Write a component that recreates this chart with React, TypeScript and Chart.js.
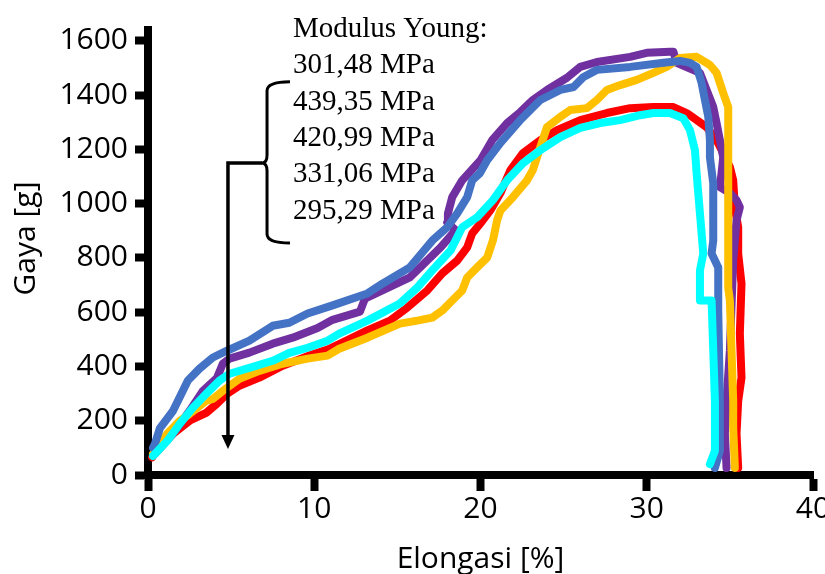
import React, { useEffect, useRef } from 'react';
import { Chart, registerables } from 'chart.js';

Chart.register(...registerables);

// ---------- Axis ticks and texts ----------
const X_TICKS = [0, 10, 20, 30, 40];
const Y_TICKS = [0, 200, 400, 600, 800, 1000, 1200, 1400, 1600];
const X_MIN = 0;
const X_MAX = 40;
const Y_MIN = 0;
const Y_MAX = 1640;
const X_TITLE = 'Elongasi [%]';
const Y_TITLE = 'Gaya [g]';
const MODULUS_LINES = [
  'Modulus Young:',
  '301,48 MPa',
  '439,35 MPa',
  '420,99 MPa',
  '331,06 MPa',
  '295,29 MPa',
];

// ---------- Series (Elongasi %, Gaya g) ----------
const redX = [0.25, 0.4, 1.5, 2.5, 3.5, 4.15, 4.75, 5.5, 6.7, 8.1, 9.6, 10.8, 11.5, 13.2, 14.55, 15.6, 16.8, 17.7, 18.6, 19.2, 19.5, 20.0, 20.6, 21.2, 21.8, 22.55, 23.6, 24.6, 26.0, 27.6, 29.0, 30.4, 31.6, 32.4, 33.0, 33.6, 34.2, 34.6, 35.0, 35.2, 35.3, 35.5, 35.5, 35.7, 35.6, 35.7, 35.5, 35.4, 35.5];
const redY = [65, 79, 152, 200, 229, 263, 299, 329, 359, 403, 438, 462, 482, 533, 569, 617, 680, 743, 790, 839, 890, 928, 976, 1039, 1124, 1186, 1234, 1271, 1308, 1334, 1352, 1356, 1356, 1334, 1308, 1282, 1234, 1186, 1135, 1086, 986, 913, 816, 705, 521, 359, 273, 152, 26];

const yellowX = [0.3, 1.15, 1.9, 2.5, 3.5, 3.9, 4.5, 5.5, 6.7, 8.1, 9.6, 10.8, 11.5, 13.2, 15.15, 16.2, 17.1, 17.7, 18.3, 18.9, 19.2, 19.8, 20.4, 20.75, 21.0, 21.2, 21.95, 22.8, 23.15, 23.6, 24.0, 24.8, 25.4, 26.4, 27.0, 27.6, 28.4, 29.4, 30.4, 31.2, 32.0, 33.0, 33.8, 34.2, 34.6, 34.9, 34.9, 34.9, 34.9, 35.0, 35.1, 35.2, 35.2, 35.3];
const yellowY = [78, 152, 199, 225, 273, 280, 310, 355, 384, 410, 429, 440, 465, 506, 558, 569, 580, 606, 643, 680, 728, 765, 801, 865, 939, 975, 1024, 1086, 1124, 1209, 1282, 1320, 1345, 1352, 1382, 1419, 1437, 1456, 1482, 1504, 1537, 1541, 1511, 1482, 1408, 1356, 1135, 890, 691, 643, 459, 274, 174, 26];

const cyanX = [0.3, 1.15, 1.9, 2.7, 3.5, 4.3, 4.9, 6.1, 7.5, 8.5, 9.6, 10.8, 11.5, 13.2, 15.15, 16.2, 17.1, 18.2, 18.9, 19.8, 20.75, 21.6, 22.55, 23.6, 24.8, 26.0, 27.2, 28.4, 29.6, 30.4, 31.4, 32.2, 32.6, 32.9, 33.0, 33.2, 33.4, 33.2, 33.2, 33.9, 34.0, 34.1, 34.1, 33.8];
const cyanY = [70, 125, 188, 248, 299, 348, 373, 395, 421, 450, 469, 495, 521, 569, 632, 691, 754, 828, 913, 950, 1013, 1086, 1149, 1197, 1245, 1279, 1297, 1308, 1326, 1334, 1334, 1315, 1271, 1197, 1112, 964, 816, 754, 643, 643, 459, 274, 89, 40];

const blueX = [0.3, 0.42, 0.72, 1.5, 2.4, 3.1, 3.9, 4.75, 6.1, 7.5, 8.5, 9.6, 11.1, 13.2, 14.1, 15.75, 16.5, 17.1, 18.0, 18.6, 19.2, 19.5, 19.96, 20.4, 21.2, 22.4, 23.6, 24.8, 25.6, 26.2, 27.0, 29.0, 31.0, 32.0, 32.6, 33.0, 33.3, 33.5, 33.7, 33.8, 33.8, 34.0, 34.0, 34.0, 33.9, 34.3, 34.3, 34.4, 34.4, 34.1];
const blueY = [100, 115, 173, 236, 348, 392, 433, 458, 495, 550, 561, 595, 625, 669, 705, 765, 820, 864, 913, 964, 1024, 1086, 1112, 1160, 1224, 1309, 1382, 1419, 1430, 1467, 1493, 1504, 1519, 1526, 1519, 1504, 1445, 1382, 1320, 1234, 1171, 1075, 964, 864, 816, 765, 606, 273, 89, 26];

const purpleX = [0.42, 1.5, 2.5, 3.3, 4.15, 4.5, 4.9, 6.1, 7.5, 8.7, 10.2, 11.1, 12.75, 13.05, 14.1, 15.75, 16.8, 17.6, 18.5, 18.0, 18.04, 18.3, 18.9, 20.0, 20.7, 21.6, 22.4, 23.15, 24.0, 25.2, 26.0, 27.0, 29.0, 30.0, 31.4, 31.6, 31.8, 33.2, 33.6, 34.0, 34.2, 34.4, 34.6, 34.5, 34.4, 35.0, 35.4, 35.6, 35.4, 35.3, 35.2, 35.0, 34.8, 34.7, 34.8];
const purpleY = [78, 152, 236, 310, 358, 410, 429, 451, 484, 506, 542, 572, 602, 650, 680, 728, 791, 839, 902, 931, 964, 1024, 1086, 1160, 1234, 1297, 1338, 1382, 1419, 1464, 1504, 1522, 1541, 1556, 1560, 1560, 1519, 1482, 1419, 1356, 1297, 1234, 1171, 1112, 1061, 1039, 1013, 987, 939, 864, 790, 459, 274, 152, 26];

// Drawing order: first entry is drawn on top
const SERIES_X = [cyanX, blueX, yellowX, purpleX, redX];
const SERIES_Y = [cyanY, blueY, yellowY, purpleY, redY];
const SERIES_COLORS = ['#00FFFF', '#4472C4', '#FFC000', '#7030A0', '#FF0000'];

// ---------- Annotation anchors (data units) ----------
const NOTE_TEXT_X = 8.72;
const NOTE_TEXT_Y = 1615;
const BRACE_X = 7.16;
const BRACE_TIP_X = 8.54;
const BRACE_TOP_Y = 1449;
const BRACE_MID_Y = 1150;
const BRACE_BOTTOM_Y = 855;
const ARROW_X = 4.81;
const ARROW_TIP_Y = 96;

const SANS = '"Open Sans", "Noto Sans", sans-serif';
const SERIF = '"Liberation Serif", "Times New Roman", serif';

const notesPlugin = {
  id: 'notes',
  afterDraw(chart: any) {
    const { ctx, chartArea } = chart;
    const xs = chart.scales.x;
    const ys = chart.scales.y;
    ctx.save();
    ctx.fillStyle = '#000';
    ctx.strokeStyle = '#000';

    // Modulus text
    ctx.font = `29px ${SERIF}`;
    ctx.textAlign = 'left';
    ctx.textBaseline = 'alphabetic';
    const tx = xs.getPixelForValue(NOTE_TEXT_X);
    const ty = ys.getPixelForValue(NOTE_TEXT_Y);
    MODULUS_LINES.forEach((t, i) => ctx.fillText(t, tx, ty + i * 36.4));

    // Curly brace
    const bx = xs.getPixelForValue(BRACE_X);
    const btx = xs.getPixelForValue(BRACE_TIP_X);
    const bt = ys.getPixelForValue(BRACE_TOP_Y);
    const bm = ys.getPixelForValue(BRACE_MID_Y);
    const bb = ys.getPixelForValue(BRACE_BOTTOM_Y);
    ctx.lineWidth = 3;
    ctx.lineJoin = 'round';
    ctx.beginPath();
    ctx.moveTo(btx, bt);
    ctx.quadraticCurveTo(bx, bt, bx, bt + 9);
    ctx.lineTo(bx, bm - 8);
    ctx.quadraticCurveTo(bx, bm, bx - 5, bm);
    ctx.quadraticCurveTo(bx, bm, bx, bm + 8);
    ctx.lineTo(bx, bb - 9);
    ctx.quadraticCurveTo(bx, bb, btx, bb);
    ctx.stroke();

    // Arrow
    const ax = xs.getPixelForValue(ARROW_X);
    const atip = ys.getPixelForValue(ARROW_TIP_Y);
    ctx.lineWidth = 3.5;
    ctx.lineJoin = 'miter';
    ctx.beginPath();
    ctx.moveTo(bx - 5, bm);
    ctx.lineTo(ax, bm);
    ctx.lineTo(ax, atip - 12);
    ctx.stroke();
    ctx.beginPath();
    ctx.moveTo(ax - 6.5, atip - 14);
    ctx.lineTo(ax + 6.5, atip - 14);
    ctx.lineTo(ax, atip);
    ctx.closePath();
    ctx.fill();

    // Axis titles
    ctx.font = `30px ${SANS}`;
    ctx.textAlign = 'center';
    ctx.textBaseline = 'alphabetic';
    ctx.fillText(X_TITLE, (chartArea.left + chartArea.right) / 2, chartArea.bottom + 93);
    ctx.translate(35, (chartArea.top + chartArea.bottom) / 2 - 14);
    ctx.rotate(-Math.PI / 2);
    ctx.fillText(Y_TITLE, 0, 0);
    ctx.restore();
  },
};

export default function App() {
  const canvasRef = useRef<HTMLCanvasElement | null>(null);

  useEffect(() => {
    const canvas = canvasRef.current;
    if (!canvas) return;
    const datasets = SERIES_X.map((xsArr, i) => ({
      label: `S${i + 1}`,
      data: xsArr.map((v, j) => ({ x: v, y: SERIES_Y[i][j] })),
      borderColor: SERIES_COLORS[i],
      backgroundColor: SERIES_COLORS[i],
      borderWidth: 8,
      pointRadius: 0,
      pointHoverRadius: 0,
      tension: 0,
      fill: false,
      borderCapStyle: 'round' as const,
      borderJoinStyle: 'round' as const,
    }));

    const chart = new Chart(canvas, {
      type: 'line',
      data: { datasets },
      plugins: [notesPlugin],
      options: {
        animation: false,
        responsive: false,
        devicePixelRatio: 1,
        layout: { padding: { top: 30, right: 12, left: 0, bottom: 0 } },
        plugins: {
          legend: { display: false },
          tooltip: { enabled: false },
        },
        scales: {
          x: {
            type: 'linear',
            min: X_MIN,
            max: X_MAX,
            afterBuildTicks: (s: any) => {
              s.ticks = X_TICKS.map((v) => ({ value: v }));
            },
            afterFit: (s: any) => {
              s.height = 99;
              s.paddingLeft = 0;
              s.paddingRight = 0;
            },
            grid: {
              drawOnChartArea: false,
              drawTicks: true,
              tickLength: 16,
              tickWidth: 8,
              tickColor: '#000',
            },
            border: { display: true, width: 8, color: '#000' },
            ticks: {
              color: '#000',
              font: { family: SANS, size: 30 },
              padding: 0,
              maxRotation: 0,
              callback: (v: any) => String(v),
            },
          },
          y: {
            type: 'linear',
            min: Y_MIN,
            max: Y_MAX,
            afterBuildTicks: (s: any) => {
              s.ticks = Y_TICKS.map((v) => ({ value: v }));
            },
            afterFit: (s: any) => {
              s.width = 148;
              s.paddingTop = 0;
              s.paddingBottom = 0;
            },
            grid: {
              drawOnChartArea: false,
              drawTicks: true,
              tickLength: 13,
              tickWidth: 8,
              tickColor: '#000',
            },
            border: { display: true, width: 8, color: '#000' },
            ticks: {
              color: '#000',
              font: { family: SANS, size: 30 },
              padding: 7,
              callback: (v: any) => String(v),
            },
          },
        },
      },
    });
    return () => chart.destroy();
  }, []);

  return (
    <div style={{ position: 'fixed', left: 0, top: 0, width: 825, height: 574, background: '#fff' }}>
      <canvas ref={canvasRef} width={825} height={574} style={{ width: 825, height: 574, display: 'block' }} />
    </div>
  );
}
